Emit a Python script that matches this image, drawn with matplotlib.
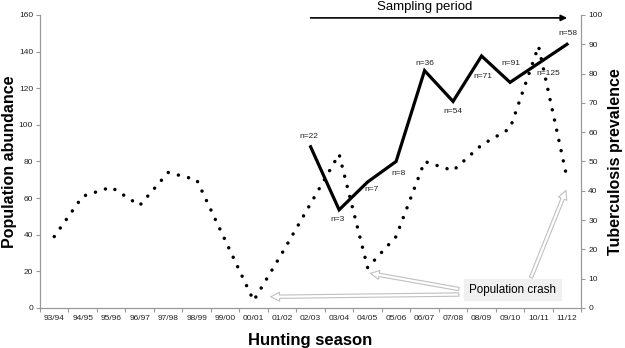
import matplotlib
matplotlib.use("Agg")
import matplotlib.pyplot as plt

plt.rcParams['font.family'] = ['Liberation Sans', 'DejaVu Sans']

# hunting seasons on the x axis
seasons = ["93/94", "94/95", "95/96", "96/97", "97/98", "98/99", "99/00", "00/01",
           "01/02", "02/03", "03/04", "04/05", "05/06", "06/07", "07/08", "08/09",
           "09/10", "10/11", "11/12"]

# population abundance (left axis, dotted)
abundance = [39, 61, 66, 56, 74, 70, 37, 4, 30, 57, 84, 22, 39, 80, 75, 89, 98, 143, 71]

# tuberculosis prevalence (right axis, solid), sampled from 02/03 on
tb_seasons = seasons[9:]
prevalence = [55, 33.5, 43, 50, 81, 70.5, 86, 77, 83.5, 90]
sample_n = ["n=22", "n=3", "n=7", "n=8", "n=36", "n=54", "n=71", "n=91", "n=125", "n=58"]
# label offsets in pixels from each point
n_offsets = [(-2, 10), (-2, -10), (4, -8), (2, -12), (0, 7), (0, -10), (1, -21), (1, 19), (10, -10), (1, 11)]

fig = plt.figure(figsize=(6.25, 3.48), dpi=100)
ax = fig.add_axes([0.064, 0.115, 0.866, 0.842])
ax2 = ax.twinx()

x = list(range(len(seasons)))
x_tb = [seasons.index(s) for s in tb_seasons]

ax.plot(x, abundance, color='black', lw=2.5, linestyle=(0, (0.01, 3.0)),
        dash_capstyle='round', zorder=3)
ax2.plot(x_tb, prevalence, color='black', lw=2.3, solid_joinstyle='miter')

for xi, yi, lab, off in zip(x_tb, prevalence, sample_n, n_offsets):
    ax2.annotate(lab, (xi, yi), xytext=off, textcoords='offset pixels',
                 ha='center', va='center', fontsize=6, color='#222222')

ax.set_xlim(-0.5, len(seasons) - 0.5)
ax.set_ylim(0, 160)
ax2.set_ylim(0, 100)
ax.set_yticks(range(0, 161, 20))
ax2.set_yticks(range(0, 101, 10))
ax.set_xticks(x)
ax.set_xticklabels(seasons)
ax.set_xticks([i - 0.5 for i in range(len(seasons) + 1)], minor=True)

gray = '#999999'
for a in (ax, ax2):
    a.spines['top'].set_visible(False)
    for s in ('left', 'right', 'bottom'):
        a.spines[s].set_color(gray)
        a.spines[s].set_linewidth(0.8)
    a.tick_params(axis='y', colors=gray, labelcolor='#222222', labelsize=6,
                  length=3, width=0.8, pad=2)
ax.tick_params(axis='x', which='major', length=0, labelsize=6, labelcolor='#222222', pad=5)
ax.tick_params(axis='x', which='minor', length=3, width=0.8, color=gray)

ax.set_xlabel("Hunting season", fontsize=12, fontweight='bold', labelpad=8)
# y labels placed as figure text so they sit right at the edges
fig.text(0.0152, 0.536, "Population abundance", rotation=90, ha='center', va='center',
         fontsize=11.5, fontweight='bold')
fig.text(0.9845, 0.536, "Tuberculosis prevalence", rotation=90, ha='center', va='center',
         fontsize=11.5, fontweight='bold')

# sampling period arrow
ax2.annotate("", xy=(18.1, 99), xytext=(8.9, 99),
             arrowprops=dict(arrowstyle='-|>', color='black', lw=1.2,
                             mutation_scale=9), annotation_clip=False)
ax2.text(13.0, 102.6, "Sampling period", ha='center', va='center', fontsize=9.5,
         clip_on=False)

# population crash note
ax2.text(16.1, 6.1, "Population crash", ha='center', va='center', fontsize=8.4,
         bbox=dict(boxstyle='square,pad=0.45', fc='#f0f0f0', ec='none'), zorder=5)
arrow_kw = dict(arrowstyle='simple,head_width=0.8,head_length=0.8,tail_width=0.3',
                fc='white', ec='#c0c0c0', lw=0.8, mutation_scale=8)
ax2.annotate("", xy=(7.5, 3.8), xytext=(14.3, 4.6), arrowprops=arrow_kw)
ax2.annotate("", xy=(11.0, 12), xytext=(14.3, 6.3), arrowprops=arrow_kw)
ax2.annotate("", xy=(18.0, 41), xytext=(16.7, 9.5), arrowprops=arrow_kw)

fig.savefig("out.png", dpi=100)
